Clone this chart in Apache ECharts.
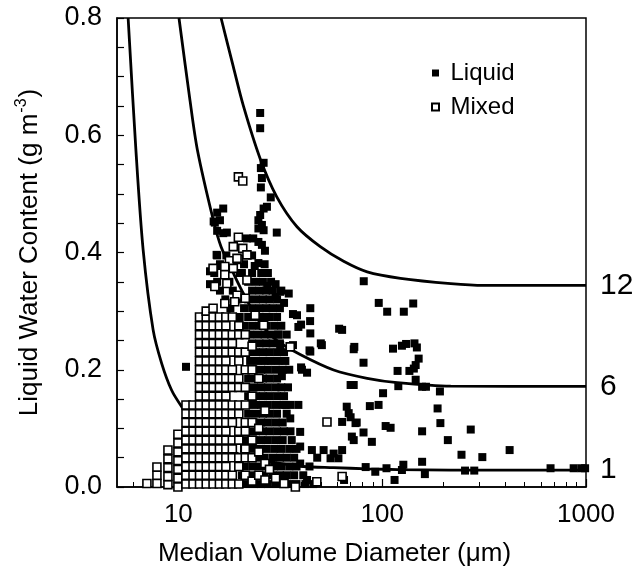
<!DOCTYPE html>
<html><head><meta charset="utf-8">
<script src="https://cdn.jsdelivr.net/npm/echarts@6/dist/echarts.min.js"></script>
<style>html,body{margin:0;padding:0;background:#fff}#c{width:641px;height:581px}</style>
</head><body><div id="c"></div>
<script>
// ---- axis ticks ----
const xMajorTicks = [10, 100, 1000];
const xMinorTicks = [6,7,8,9,20,30,40,50,60,70,80,90,200,300,400,500,600,700,800,900];
const curveLabels = ['12', '6', '1'];

// ---- curves ----
const curve12 = [[16.2,0.8],[18.6,0.717],[20.85,0.65],[25.2,0.56],[30.4,0.495],[38.2,0.444],[49.7,0.41],[64.7,0.385],[84.4,0.367],[123,0.356],[217,0.347],[316,0.344],[1000,0.344]];
const curve6 = [[10.07,0.8],[11.4,0.66],[12.4,0.575],[14.85,0.455],[16.2,0.41],[18.6,0.365],[20.85,0.33],[25.2,0.28],[30.4,0.25],[39.6,0.226],[57.8,0.1996],[84.4,0.1854],[118.6,0.178],[217,0.172],[1000,0.1716]];
const curve1 = [[5.67,0.8],[6.19,0.575],[6.72,0.404],[7.52,0.268],[8.28,0.211],[9.27,0.165],[10.38,0.137],[12.4,0.1],[14.9,0.076],[16.6,0.066],[20.85,0.054],[25.2,0.047],[30.4,0.041],[41,0.035],[57.8,0.033],[84.4,0.031],[120,0.0297],[217,0.0288],[1000,0.0287]];

// ---- Mixed (open squares): stacked columns [x, [y...]] ----
const mixedColumns = [
 [7.01,[0.006]],
 [7.85,[0.006,0.02,0.034]],
 [8.89,[0.004,0.018,0.033,0.048,0.063]],
 [9.95,[0.0,0.015,0.03,0.045,0.06,0.075,0.09]],
 [10.9,[0.005,0.02,0.035,0.05,0.065,0.08,0.095,0.11,0.125,0.14]],
 [11.8,[0.005,0.02,0.035,0.05,0.065,0.08,0.095,0.11,0.125,0.14]],
 [12.7,[0.005,0.02,0.035,0.05,0.065,0.08,0.095,0.11,0.125,0.14,0.155,0.17,0.185,0.2,0.215,0.23,0.245,0.26,0.275,0.29]],
 [13.7,[0.005,0.02,0.035,0.05,0.065,0.08,0.095,0.11,0.125,0.14,0.155,0.17,0.185,0.2,0.215,0.23,0.245,0.26,0.275,0.29,0.3]],
 [14.8,[0.005,0.02,0.035,0.05,0.065,0.08,0.095,0.11,0.125,0.14,0.155,0.17,0.185,0.2,0.215,0.23,0.245,0.26,0.275,0.29,0.305]],
 [15.9,[0.005,0.02,0.035,0.05,0.065,0.08,0.095,0.11,0.125,0.14,0.155,0.17,0.185,0.2,0.215,0.23,0.245,0.26,0.275,0.29]],
 [17.1,[0.005,0.02,0.035,0.05,0.065,0.08,0.095,0.11,0.125,0.14,0.155,0.17,0.185,0.2,0.215,0.23,0.245,0.26,0.275,0.29]],
 [18.4,[0.005,0.02,0.05,0.065,0.08,0.11,0.125,0.14,0.17,0.185,0.2,0.23,0.245,0.26,0.29]],
 [19.8,[0.005,0.035,0.05,0.08,0.095,0.125,0.14,0.17,0.185,0.215,0.23,0.26,0.275]],
 [21.3,[0.02,0.05,0.065,0.095,0.11,0.14,0.17,0.2,0.23,0.26]],
 [23.0,[0.01,0.05,0.08,0.11,0.155,0.2,0.24]],
 [24.8,[0.02,0.06,0.1,0.185]],
 [26.6,[0.012,0.04,0.13]]
];
const mixedOther = [[19.7,0.529],[20.7,0.522],[19.7,0.426],[18.6,0.41],[20.7,0.407],[21.7,0.396],[19.7,0.388],[17.8,0.386],[14.8,0.373],[16.9,0.376],[18.6,0.373],[16.9,0.362],[19.4,0.39],[15.1,0.342],[17.3,0.347],[19.4,0.327],[21.7,0.353],[16.9,0.313],[18.9,0.316],[21.3,0.322],[23.8,0.293],[26.2,0.276],[35.4,0.239],[53.6,0.111],[47.8,0.009],[63.6,0.018],[37.5,0.0],[30,0.015],[33,0.006],[28,0.03]];

// ---- Liquid (filled squares): dense rows [y, [x...]] ----
const liquidRows = [
 [0.005,[19.5,21.5,23.5,25.5,27.5,30,32.5,35,38,42,46]],
 [0.02,[20.5,22.5,24.5,26.5,29,31.5,34,37,41]],
 [0.035,[21,23,25,27,29.5,32,35,38,44]],
 [0.05,[20.5,22.5,24.5,26.5,29,31.5,34,37,48]],
 [0.065,[21,23,25,27,29.5,32,35,38]],
 [0.08,[21.5,23.5,25.5,27.5,30,32.5,36]],
 [0.095,[22,24,26,28,30.5,33,35.5]],
 [0.11,[21.5,23.5,25.5,27.5,30,32.5]],
 [0.125,[22,24,26,28,30.5,34]],
 [0.14,[21.5,23.5,25.5,27.5,30,32.5,35.5]],
 [0.155,[22,24,26,28,30.5,33]],
 [0.17,[21.5,23.5,25.5,27.5,30,32,34.5]],
 [0.185,[22,24,26,28,30.5]],
 [0.2,[21.5,23.5,25.5,27.5,30,32.5,35]],
 [0.215,[22.5,24.5,26.5,28.5,31,33.5]],
 [0.23,[22,24,26,28,30.5,33]],
 [0.245,[23,25,27,29,31.5]],
 [0.26,[22.5,24.5,26.5,28.5,31,34]],
 [0.275,[21,23,25,27,29.5,32]],
 [0.29,[20,22,24,26,28,30.5]],
 [0.305,[18,21,23,25,27,29,31.5]],
 [0.32,[17,19.5,22,24,26,28,30.5]],
 [0.335,[16,18.5,23,25,27,29,32]],
 [0.35,[15.5,17.8,22,24,26,28.5]],
 [0.365,[15,20,23,25.5,27.5]],
 [0.38,[16,18,21,26.5]],
 [0.395,[15.5,17.2,23]]
];
const liquidOther = [
 [25.2,0.638],[25.2,0.612],[26.2,0.553],[25.4,0.544],[25.7,0.527],[25.4,0.511],[28.4,0.494],[16.6,0.475],[26.2,0.475],[27.2,0.478],[25.2,0.464],[16.0,0.455],[15.1,0.451],[24.7,0.455],[25.7,0.447],[24.7,0.441],[26.2,0.438],[30.4,0.434],[16.6,0.433],[17.3,0.434],[23.3,0.424],[21.7,0.424],[24.7,0.418],[25.7,0.413],[26.6,0.403],[24.7,0.382],[10.9,0.205],
 [15.5,0.468],[14.9,0.453],[15.5,0.437],[15.4,0.396],[14.3,0.368],[14.3,0.346],[16.2,0.377],[20.5,0.365],[23.7,0.377],[27.3,0.343],[30,0.346],[31.6,0.333],[30,0.324],[34.8,0.33],[33,0.314],
 [36.5,0.295],[40,0.277],[44.3,0.283],[61.5,0.27],[31,0.26],[31.6,0.242],[36.5,0.242],[50,0.245],[44,0.233],[73,0.239],[40,0.204],
 [44.4,0.305],[38.2,0.293],[63.6,0.268],[38.8,0.273],[44.4,0.262],[50.6,0.242],[44.4,0.231],[32.2,0.189],[40.4,0.2],[42.8,0.195],[70,0.174],[67,0.137],[68.5,0.126],[38.8,0.14],[33.6,0.14],[74,0.109],[63.6,0.111],[71,0.086],[39.6,0.094],[35.4,0.117],[39.6,0.069],[45.2,0.063],[51.6,0.063],[57.8,0.057],[63.6,0.063],[55.8,0.049],[61,0.049],[39.6,0.04],[42.8,0.012],
 [81.2,0.351],[96.2,0.314],[105.8,0.299],[127.7,0.299],[142,0.313],[72.5,0.235],[113,0.236],[125,0.241],[131,0.244],[144,0.245],[148,0.238],[151,0.219],[146,0.208],[143,0.202],[136,0.198],[119,0.198],[81,0.212],[146,0.183],[120,0.172],[157,0.171],[164,0.171],[192,0.163],[72.5,0.174],[101,0.16],[87,0.138],[96,0.14],[187,0.134],[70,0.119],[75,0.11],[104,0.104],[110,0.101],[193,0.109],[157,0.095],[272,0.098],[72.5,0.08],[81,0.093],[89,0.077],[210,0.08],[422,0.063],[245,0.055],[310,0.051],[83,0.034],[92.5,0.026],[105,0.032],[127,0.038],[125,0.029],[157,0.043],[162,0.022],[115,0.012],[65,0.012],[255,0.028],[283,0.028],[670,0.032],[870,0.032],[950,0.032],[990,0.032]
];

// ---- build series data ----
const mixedData = [];
mixedColumns.forEach(([x, ys]) => ys.forEach(y => mixedData.push([x, y])));
mixedOther.forEach(p => mixedData.push(p));
const liquidData = [];
liquidRows.forEach(([y, xs]) => xs.forEach(x => liquidData.push([x, y])));
liquidOther.forEach(p => liquidData.push(p));

const FONT = 'Liberation Sans, Arial, Helvetica, sans-serif';
const chart = echarts.init(document.getElementById('c'), null, {renderer: 'canvas'});

function curveSeries(data, label) {
  return {
    type: 'line', data: data, xAxisIndex: 0, yAxisIndex: 0,
    symbol: 'none', showSymbol: false, smooth: 0.3,
    lineStyle: {color: '#000', width: 2.8}, z: 1, silent: true,
    endLabel: {show: true, formatter: label, fontSize: 30, color: '#000', distance: 14, fontFamily: FONT}
  };
}

chart.setOption({
  animation: false,
  textStyle: {fontFamily: FONT, color: '#000'},
  grid: {left: 117, right: 55, top: 18, bottom: 94, show: true, borderColor: '#000', borderWidth: 1.5, backgroundColor: 'transparent'},
  legend: {
    left: 426, top: 56, orient: 'vertical', itemGap: 10, itemWidth: 20, itemHeight: 7,
    icon: 'path://M0,0H10V10H0Z',
    textStyle: {fontSize: 24, color: '#000', fontFamily: FONT},
    data: ['Liquid', 'Mixed']
  },
  xAxis: [
    {
      type: 'log', logBase: 10, min: 5, max: 1000, gridIndex: 0,
      axisLine: {lineStyle: {color: '#000', width: 1.5}},
      axisTick: {inside: true, length: 8, customValues: xMajorTicks, lineStyle: {color: '#000', width: 1.2}},
      axisLabel: {customValues: xMajorTicks, formatter: v => String(Math.round(v)), fontSize: 26, color: '#000', margin: 15},
      splitLine: {show: false}, minorTick: {show: false},
      name: 'Median Volume Diameter (μm)', nameLocation: 'middle', nameGap: 54,
      nameTextStyle: {fontSize: 26, color: '#000', padding: [0, 34, 0, 0]}
    },
    {
      type: 'log', logBase: 10, min: 5, max: 1000, gridIndex: 0, position: 'bottom',
      axisLine: {show: false},
      axisTick: {inside: true, length: 5, customValues: xMinorTicks, lineStyle: {color: '#000', width: 1}},
      axisLabel: {show: false}, splitLine: {show: false}
    }
  ],
  yAxis: {
    type: 'value', min: 0, max: 0.8, interval: 0.05,
    axisLine: {show: true, lineStyle: {color: '#000', width: 1.5}},
    axisTick: {show: true, inside: true, length: 7, lineStyle: {color: '#000', width: 1.2}},
    axisLabel: {
      fontSize: 27, color: '#000', margin: 15,
      formatter: v => (Math.abs(v * 5 - Math.round(v * 5)) < 1e-6 ? v.toFixed(1) : '')
    },
    splitLine: {show: false},
    name: '{n|Liquid Water Content (g m}{sup|-3}{n|)}', nameLocation: 'middle', nameGap: 71, nameRotate: 90,
    nameTextStyle: {
      fontSize: 26, color: '#000',
      rich: {
        n: {fontSize: 26, lineHeight: 32, color: '#000', fontFamily: FONT},
        sup: {fontSize: 16, lineHeight: 32, verticalAlign: 'top', color: '#000', fontFamily: FONT, padding: [0, 1, 0, 1]}
      }
    }
  },
  series: [
    curveSeries(curve12, curveLabels[0]),
    curveSeries(curve6, curveLabels[1]),
    curveSeries(curve1, curveLabels[2]),
    {
      name: 'Liquid', type: 'scatter', data: liquidData, symbol: 'rect', symbolSize: 8, z: 2,
      itemStyle: {color: '#000', opacity: 1}
    },
    {
      name: 'Mixed', type: 'scatter', data: mixedData, symbol: 'rect', symbolSize: 8, z: 3,
      itemStyle: {color: '#fff', borderColor: '#000', borderWidth: 1.6, opacity: 1}
    }
  ]
});
</script>
</body></html>
